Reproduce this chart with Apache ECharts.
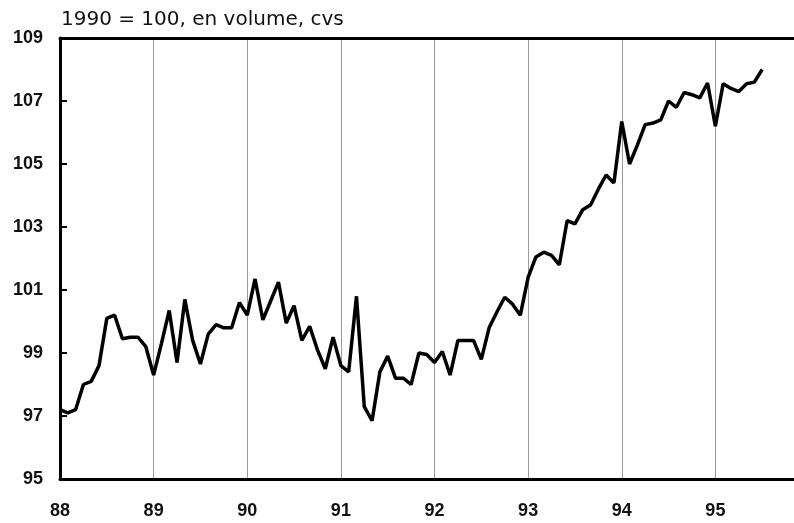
<!DOCTYPE html>
<html>
<head>
<meta charset="utf-8">
<script src="https://cdn.jsdelivr.net/npm/echarts@6/dist/echarts.min.js"></script>
<style>
html, body { margin: 0; padding: 0; background: #fff; }
#main { width: 794px; height: 523px; }
</style>
</head>
<body>
<div id="main"></div>
<script>
var title = '1990 = 100, en volume, cvs';

// first month of the series : January 1988, monthly points
var startYear = 88;
var yearTicks = [88, 89, 90, 91, 92, 93, 94, 95];
var valueTicks = [95, 97, 99, 101, 103, 105, 107, 109];

// index, monthly, Jan 88 .. Jul 95
var values = [
    97.2, 97.1, 97.2, 98.0, 98.1, 98.6, 100.1, 100.2, 99.45, 99.5, 99.5, 99.2,
    98.3, 99.3, 100.35, 98.7, 100.7, 99.4, 98.65, 99.6, 99.9, 99.8, 99.8, 100.6,
    100.2, 101.35, 100.05, 100.65, 101.25, 99.95, 100.5, 99.4, 99.85, 99.1, 98.5, 99.5,
    98.6, 98.4, 100.8, 97.3, 96.85, 98.4, 98.9, 98.2, 98.2, 98.0, 99.0, 98.95,
    98.7, 99.05, 98.3, 99.4, 99.4, 99.4, 98.8, 99.8, 100.3, 100.77, 100.55, 100.2,
    101.4, 102.05, 102.2, 102.1, 101.8, 103.2, 103.1, 103.55, 103.7, 104.2, 104.65, 104.4,
    106.35, 105.0, 105.6, 106.25, 106.3, 106.4, 107.0, 106.8, 107.27, 107.2, 107.1, 107.57,
    106.2, 107.55, 107.4, 107.3, 107.55, 107.6, 108.0
];

var points = [];
for (var i = 0; i < values.length; i++) {
    points.push([startYear + i / 12, values[i]]);
}

var myChart = echarts.init(document.getElementById('main'));

var option = {
    animation: false,
    backgroundColor: '#fff',
    title: {
        text: title,
        left: 61,
        top: 10,
        padding: 0,
        textStyle: {
            fontFamily: 'DejaVu Sans',
            fontSize: 20,
            fontWeight: 'normal',
            color: '#111'
        }
    },
    // the original plot runs past the right edge of the picture (96 is cut off)
    grid: {
        left: 60,
        right: -15,
        top: 38,
        bottom: 44,
        outerBoundsMode: 'none'
    },
    xAxis: [{
        type: 'value',
        min: yearTicks[0],
        max: 96,
        interval: 1,
        axisLine: { lineStyle: { color: '#000', width: 3 } },
        axisTick: { show: false },
        axisLabel: {
            margin: 23,
            fontFamily: 'Liberation Sans',
            fontWeight: 'bold',
            fontSize: 18,
            color: '#111',
            formatter: function (v) {
                return yearTicks.indexOf(v) >= 0 ? String(v) : '';
            }
        },
        splitLine: { show: true, lineStyle: { color: '#999', width: 1 } }
    }, {
        // top frame line only
        type: 'value',
        position: 'top',
        min: yearTicks[0],
        max: 96,
        axisLine: { show: true, lineStyle: { color: '#000', width: 3 } },
        axisTick: { show: false },
        axisLabel: { show: false },
        splitLine: { show: false }
    }],
    yAxis: {
        type: 'value',
        min: valueTicks[0],
        max: valueTicks[valueTicks.length - 1],
        interval: 2,
        axisLine: { show: true, lineStyle: { color: '#000', width: 3 } },
        axisTick: { show: true, inside: true, length: 7, lineStyle: { color: '#000', width: 2 } },
        axisLabel: {
            margin: 17,
            fontFamily: 'Liberation Sans',
            fontWeight: 'bold',
            fontSize: 18,
            color: '#111'
        },
        splitLine: { show: false }
    },
    series: [{
        type: 'line',
        data: points,
        symbol: 'none',
        lineStyle: { color: '#000', width: 3.5 }
    }]
};

myChart.setOption(option);
</script>
</body>
</html>
